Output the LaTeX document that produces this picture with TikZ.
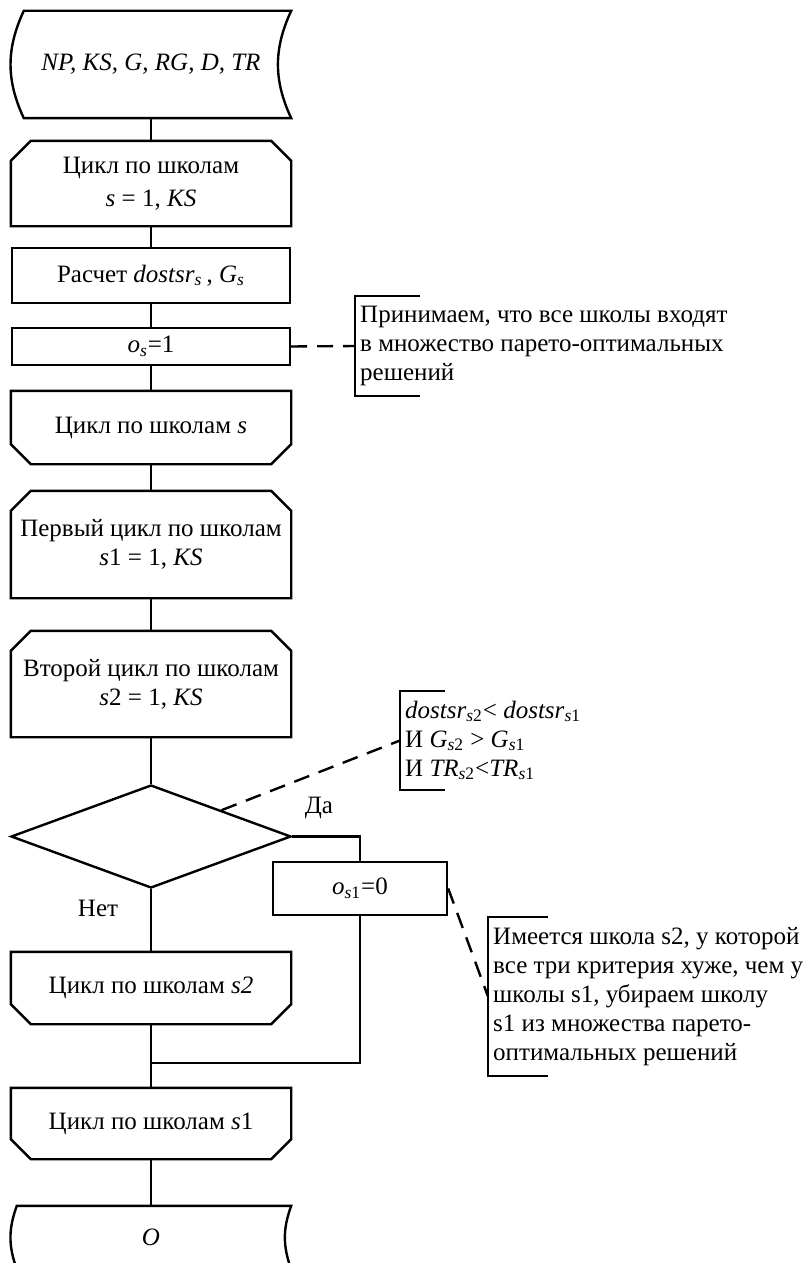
\documentclass[tikz,border=0pt]{standalone}
\usepackage{fontspec}
\setmainfont{Liberation Serif}
\usetikzlibrary{shapes.geometric}

\newcommand{\ioshape}[3]{\draw ([xshift=#2]#1.north west) -- (#1.north east) to[bend right=#3] (#1.south east) -- ([xshift=#2]#1.south west) to[bend left=#3] ([xshift=#2]#1.north west) -- cycle;}
\newcommand{\loopbegshape}[1]{\draw ([yshift=-10pt]#1.north west) -- ([xshift=10pt]#1.north west) -- ([xshift=-10pt]#1.north east) -- ([yshift=-10pt]#1.north east) -- (#1.south east) -- (#1.south west) -- cycle;}
\newcommand{\loopendshape}[1]{\draw ([yshift=10pt]#1.south west) -- ([xshift=10pt]#1.south west) -- ([xshift=-10pt]#1.south east) -- ([yshift=10pt]#1.south east) -- (#1.north east) -- (#1.north west) -- cycle;}
\newcommand{\notebracket}[2]{\draw ([xshift=#2]#1.north west) -- (#1.north west) -- (#1.south west) -- ([xshift=#2]#1.south west);}

\begin{document}
\begin{tikzpicture}[x=0.5pt,y=-0.5pt,line width=1.2pt,line join=miter,
font=\fontsize{12.5pt}{14.5pt}\selectfont,
box/.style={rectangle,minimum width=139pt,inner sep=0pt,align=center},
block/.style={box,draw},
cond/.style={draw,diamond,minimum width=140pt,minimum height=51.5pt,inner sep=0pt},
note/.style={rectangle,inner xsep=2pt,inner ysep=0pt,align=left,anchor=west},
dashline/.style={dash pattern=on 8pt off 5pt}]

\useasboundingbox (0,0) rectangle (803,1263);

\node[box,minimum height=52.5pt] (in) at (151,64.5) {\textit{NP, KS, G, RG, D, TR}};
\ioshape{in}{6.5pt}{25}
\node[box,minimum height=41.5pt] (c1) at (151,183.5) {Цикл по школам\\[2pt]\textit{s} = 1, \textit{KS}};
\loopbegshape{c1}
\node[block,minimum height=27.5pt] (calc) at (151,275.5) {Расчет \textit{dostsr}\textsubscript{\textit{s}}\,, \textit{G}\textsubscript{\textit{s}}};
\node[block,minimum height=18.5pt] (os) at (151,346.5) {\textit{o}\textsubscript{\textit{s}}=1};
\node[box,minimum height=35.5pt] (e1) at (151,427.5) {Цикл по школам \textit{s}};
\loopendshape{e1}
\node[box,minimum height=52.5pt] (c2) at (151,544.5) {Первый цикл по школам\\\textit{s}1 = 1, \textit{KS}};
\loopbegshape{c2}
\node[box,minimum height=52pt] (c3) at (151,684) {Второй цикл по школам\\\textit{s}2 = 1, \textit{KS}};
\loopbegshape{c3}
\node[cond] (dec) at (151,836.5) {};
\node[block,minimum width=87pt,minimum height=26.5pt] (os1) at (360,888.5) {\textit{o}\textsubscript{\textit{s}1}=0};
\node[box,minimum height=35pt] (e3) at (151,988) {Цикл по школам \textit{s2}};
\loopendshape{e3}
\coordinate (m) at (151,1063);
\node[box,minimum height=34.5pt] (e2) at (151,1123.5) {Цикл по школам \textit{s}1};
\loopendshape{e2}
\node[box,minimum height=30.5pt] (out) at (151,1237.5) {\textit{O}};
\ioshape{out}{3pt}{20}

\node (yes) at (319,808) {Да};
\node (no) at (98,908) {Нет};

\draw (in) -- (c1);
\draw (c1) -- (calc);
\draw (calc) -- (os);
\draw (os) -- (e1);
\draw (e1) -- (c2);
\draw (c2) -- (c3);
\draw (c3) -- (dec);
\draw (dec.east) -| (os1.north);
\draw (dec.south) -- (e3.north);
\draw (os1.south) |- (m);
\draw (e3) -- (e2);
\draw (e2) -- (out);

\node[note,minimum height=49pt] (n1) at (355,346) {Принимаем, что все школы входят\\в множество парето-оптимальных\\решений};
\notebracket{n1}{32.5pt}
\node[note,minimum height=48.5pt] (n2) at (400,740.5) {\textit{dostsr}\textsubscript{\textit{s}2}< \textit{dostsr}\textsubscript{\textit{s}1}\\И \textit{G}\textsubscript{\textit{s}2} > \textit{G}\textsubscript{\textit{s}1}\\И \textit{TR}\textsubscript{\textit{s}2}<\textit{TR}\textsubscript{\textit{s}1}};
\notebracket{n2}{22.5pt}
\node[note,minimum height=78.5pt] (n3) at (488,996.5) {Имеется школа s2, у которой\\все три критерия хуже, чем у\\школы s1, убираем школу\\s1 из множества парето-\\оптимальных решений};
\notebracket{n3}{30pt}

\draw[dashline] (os.east) -- (n1.west);
\draw[dashline] (dec.north east) -- (n2.west);
\draw[dashline] (os1.east) -- (n3.west);
\end{tikzpicture}
\end{document}
